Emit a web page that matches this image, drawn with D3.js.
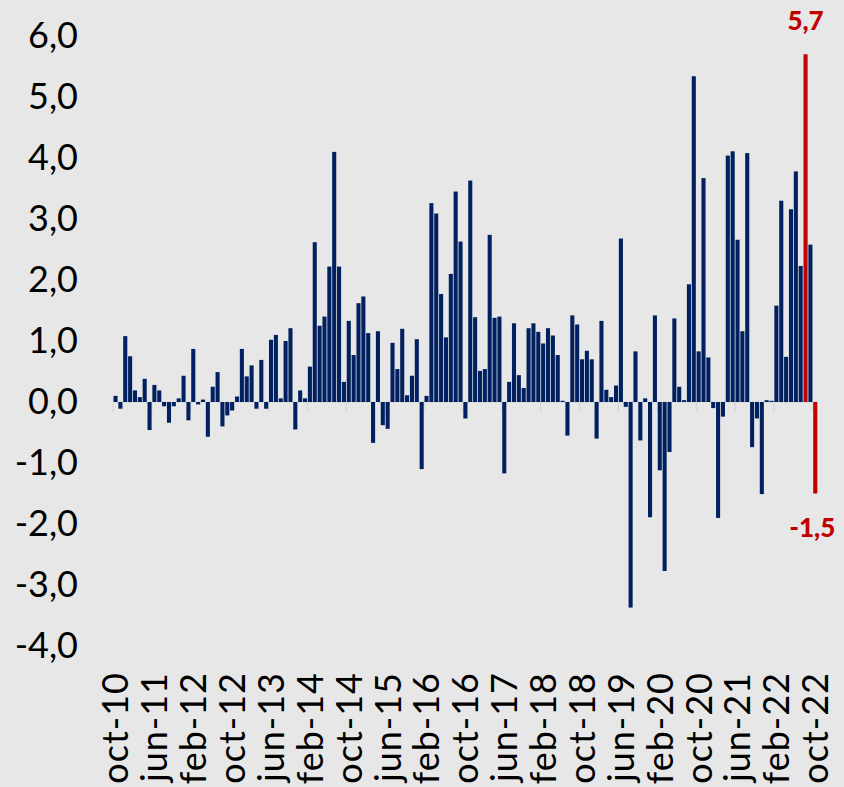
<!DOCTYPE html>
<html>
<head>
<meta charset="utf-8">
<script src="https://cdn.jsdelivr.net/npm/d3@7"></script>
<style>
  html, body { margin: 0; padding: 0; background: #e7e7e7; }
  svg { display: block; }
</style>
</head>
<body>
<script>
// monthly values, oct-10 .. oct-22
var values = [
  0.10, -0.11, 1.08, 0.75, 0.19, 0.08, 0.38, -0.46, 0.28, 0.19, -0.07, -0.34,
  -0.07, 0.06, 0.43, -0.30, 0.87, -0.04, 0.04, -0.57, 0.25, 0.49, -0.40, -0.22,
  -0.14, 0.09, 0.87, 0.42, 0.60, -0.11, 0.69, -0.11, 1.02, 1.10, 0.06, 1.00,
  1.21, -0.45, 0.19, 0.06, 0.58, 2.62, 1.25, 1.40, 2.22, 4.10, 2.22, 0.33,
  1.33, 0.77, 1.62, 1.73, 1.13, -0.67, 1.16, -0.38, -0.44, 0.97, 0.54, 1.20,
  0.11, 0.43, 1.03, -1.10, 0.10, 3.26, 3.09, 1.77, 1.06, 2.10, 3.45, 2.63,
  -0.27, 3.63, 1.39, 0.51, 0.54, 2.74, 1.38, 1.40, -1.17, 0.33, 1.29, 0.44,
  0.23, 1.21, 1.29, 1.15, 0.96, 1.21, 1.09, 0.77, 0.02, -0.55, 1.42, 1.27,
  0.70, 0.84, 0.70, -0.60, 1.33, 0.20, 0.08, 0.27, 2.68, -0.08, -3.37, 0.83,
  -0.63, 0.06, -1.89, 1.42, -1.12, -2.77, -0.82, 1.37, 0.25, 0.03, 1.93, 5.34,
  0.83, 3.67, 0.73, -0.10, -1.90, -0.24, 4.04, 4.11, 2.66, 1.16, 4.08, -0.74,
  -0.27, -1.51, 0.03, 0.02, 1.58, 3.30, 0.74, 3.16, 3.78, 2.23, 5.70, 2.58,
  -1.50
];

// highlighted months (red) and their labels
var highlight = ['ago-22', 'oct-22'];
var highlightLabels = ['5,7', '-1,5'];

var tickLabels = ['oct-10','jun-11','feb-12','oct-12','jun-13','feb-14','oct-14',
  'jun-15','feb-16','oct-16','jun-17','feb-18','oct-18','jun-19','feb-20',
  'oct-20','jun-21','feb-22','oct-22'];

var yTicks = [6, 5, 4, 3, 2, 1, 0, -1, -2, -3, -4];

var monthNames = ['ene','feb','mar','abr','may','jun','jul','ago','sep','oct','nov','dic'];
var months = d3.timeMonths(new Date(2010, 9, 1), new Date(2022, 10, 1)).map(function(d){
  return monthNames[d.getMonth()] + '-' + String(d.getFullYear()).slice(2);
});

var data = months.map(function(m, i){
  return {month: m, value: values[i], red: highlight.indexOf(m) > -1};
});

var width = 844;
var height = 787;
var blue = '#002060';
var red = '#c00000';
var font = 'Lato, "Open Sans", sans-serif';

var svg = d3.select('body').append('svg')
  .attr('width', width)
  .attr('height', height)
  .style('font-family', font);

svg.append('rect')
  .attr('width', width)
  .attr('height', height)
  .attr('fill', '#e7e7e7');

var x = d3.scaleBand()
  .domain(months)
  .range([113.1, 817.7])
  .paddingInner(0.16)
  .paddingOuter(0.08);

var y = d3.scaleLinear()
  .domain([-4, 6])
  .range([646, 36]);

// zero line + category ticks
svg.append('line')
  .attr('x1', x.range()[0])
  .attr('x2', x.range()[1])
  .attr('y1', y(0))
  .attr('y2', y(0))
  .attr('stroke', '#d6d6d6')
  .attr('stroke-width', 1);

var step = x.step();
svg.selectAll('.tick-mark').data(tickLabels)
  .enter().append('line')
  .attr('class', 'tick-mark')
  .attr('x1', function(d){ return x(d) + x.bandwidth()/2 - step/2; })
  .attr('x2', function(d){ return x(d) + x.bandwidth()/2 - step/2; })
  .attr('y1', y(0))
  .attr('y2', y(0) + 10)
  .attr('stroke', '#d2d2d2')
  .attr('stroke-width', 1);

// bars
svg.selectAll('.bar').data(data)
  .enter().append('rect')
  .attr('class', 'bar')
  .attr('x', function(d){ return x(d.month); })
  .attr('width', x.bandwidth())
  .attr('y', function(d){ return y(Math.max(0, d.value)); })
  .attr('height', function(d){ return Math.abs(y(d.value) - y(0)); })
  .attr('fill', function(d){ return d.red ? red : blue; });

// red value labels
var redData = data.filter(function(d){ return d.red; });
svg.selectAll('.red-label').data(redData)
  .enter().append('text')
  .attr('class', 'red-label')
  .attr('x', function(d){ return x(d.month) + x.bandwidth()/2 + (d.value < 0 ? -3 : 0); })
  .attr('y', function(d){ return d.value >= 0 ? y(d.value) - 24 : y(d.value) + 43; })
  .attr('text-anchor', 'middle')
  .attr('fill', red)
  .style('font-size', '26px')
  .style('font-weight', 900)
  .text(function(d, i){ return highlightLabels[i]; });

// y axis labels
var fmt = function(v){ return d3.format('.1f')(v).replace('.', ',').replace('−', '-'); };
var yAxis = d3.axisLeft(y).tickValues(yTicks).tickSize(0).tickPadding(0).tickFormat(fmt);
var gy = svg.append('g')
  .attr('transform', 'translate(78,0)')
  .call(yAxis);
gy.select('.domain').remove();
gy.selectAll('text')
  .attr('fill', '#000')
  .style('font-family', font)
  .style('font-size', '36px');

// x axis labels (rotated)
svg.selectAll('.x-label').data(tickLabels)
  .enter().append('text')
  .attr('class', 'x-label')
  .attr('transform', function(d){
    return 'translate(' + (x(d) + x.bandwidth()/2) + ',672) rotate(-90)';
  })
  .attr('dy', '0.36em')
  .attr('text-anchor', 'end')
  .attr('fill', '#000')
  .style('font-size', '36px')
  .style('letter-spacing', '1px')
  .text(function(d){ return d; });
</script>
</body>
</html>
